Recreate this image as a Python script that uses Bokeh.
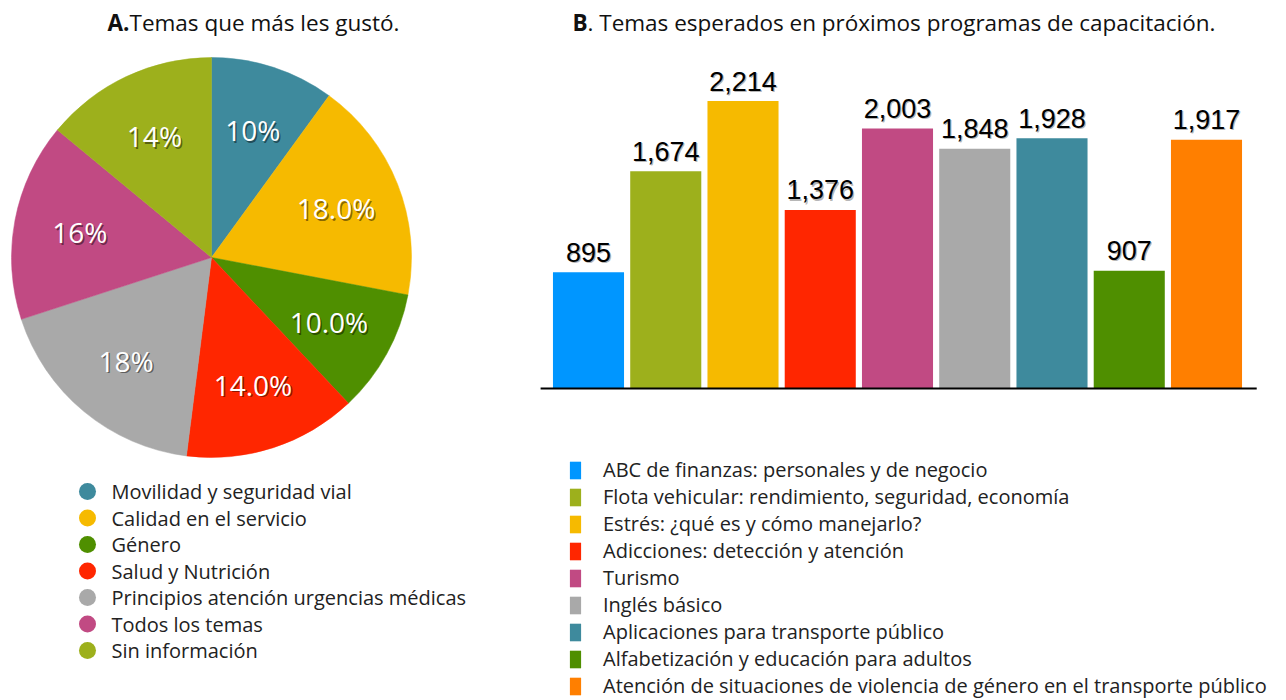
import math
from bokeh.plotting import figure
from bokeh.layouts import row
from bokeh.models import Range1d, Label, Legend, LegendItem, ColumnDataSource
from bokeh.core.properties import value
from bokeh.embed import file_html
from bokeh.resources import INLINE

# ---------------- data ----------------
pie_labels = ["Movilidad y seguridad vial", "Calidad en el servicio", "Género",
              "Salud y Nutrición", "Principios atención urgencias médicas",
              "Todos los temas", "Sin información"]
pie_values = [10, 18, 10, 14, 18, 16, 14]
pie_texts = ["10%", "18.0%", "10.0%", "14.0%", "18%", "16%", "14%"]
pie_colors = ["#3E8A9D", "#F6BA00", "#4F8F00", "#FF2600", "#A9A9A9", "#C14A83", "#9DB01C"]

bar_labels = ["ABC de finanzas: personales y de negocio",
              "Flota vehicular: rendimiento, seguridad, economía",
              "Estrés: ¿qué es y cómo manejarlo?",
              "Adicciones: detección y atención",
              "Turismo",
              "Inglés básico",
              "Aplicaciones para transporte público",
              "Alfabetización y educación para adultos",
              "Atención de situaciones de violencia de género en el transporte público"]
bar_values = [895, 1674, 2214, 1376, 2003, 1848, 1928, 907, 1917]
bar_colors = ["#0096FF", "#9DB01C", "#F6BA00", "#FF2600", "#C14A83", "#A9A9A9",
              "#3E8A9D", "#4F8F00", "#FF7F00"]

FONT = "Open Sans"
H = 700
W1 = 533
W2 = 745

# ---------------- left: pie ----------------
p1 = figure(width=W1, height=H, x_range=Range1d(0, W1), y_range=Range1d(0, H),
            x_axis_type=None, y_axis_type=None, toolbar_location=None,
            output_backend="svg", min_border=0, outline_line_color=None)
p1.grid.visible = False

cx, cy, R = 211, 443, 200
total = float(sum(pie_values))
starts, ends, lx, ly = [], [], [], []
cum = 0.0
for v in pie_values:
    a0 = math.pi / 2 - 2 * math.pi * cum / total
    a1 = math.pi / 2 - 2 * math.pi * (cum + v) / total
    am = (a0 + a1) / 2
    starts.append(a0)
    ends.append(a1)
    lx.append(cx + 0.67 * R * math.cos(am))
    ly.append(cy + 0.67 * R * math.sin(am))
    cum += v

psrc = ColumnDataSource(dict(start=starts, end=ends, color=pie_colors,
                             lx=lx, ly=ly, sx=[x + 1.5 for x in lx],
                             sy=[y - 1.5 for y in ly], txt=pie_texts))
p1.wedge(x=cx, y=cy, radius=R, start_angle="start", end_angle="end",
         direction="clock", fill_color="color", line_color="color",
         line_width=0.5, source=psrc)
p1.text(x="sx", y="sy", text="txt", source=psrc,
        text_color="black", text_alpha=0.45, text_font=value(FONT),
        text_font_size="28px", text_align="center", text_baseline="middle")
p1.text(x="lx", y="ly", text="txt", source=psrc, text_color="white",
        text_font=value(FONT), text_font_size="28px", text_align="center",
        text_baseline="middle")

# pie legend
leg_y = [H - 491 - 26.5 * i for i in range(len(pie_labels))]
lsrc = ColumnDataSource(dict(y=leg_y, color=pie_colors, label=pie_labels))
p1.scatter(x=87, y="y", size=17, marker="circle", fill_color="color",
           line_color=None, source=lsrc)
p1.text(x=111, y="y", text="label", source=lsrc, text_color="#222222",
        text_font=value(FONT), text_font_size="20px", text_baseline="middle")

p1.add_layout(Label(x=129, y=H - 22, x_units="screen", y_units="screen", text="A.",
                    text_font=FONT, text_font_style="bold", text_font_size="22.5px",
                    text_align="right", text_baseline="middle", text_color="#111111"))
p1.add_layout(Label(x=129, y=H - 22, x_units="screen", y_units="screen",
                    text="Temas que más les gustó.", text_font=FONT,
                    text_font_size="22.5px", text_align="left",
                    text_baseline="middle", text_color="#111111"))

# ---------------- right: bars ----------------
pitch = 77.25          # px per category
first_c = 55           # px of first bar centre
base_px = H - 388      # px of baseline from bottom
scale = 0.1298         # px per unit
p2 = figure(width=W2, height=H,
            x_range=Range1d(-first_c / pitch, (W2 - first_c) / pitch),
            y_range=Range1d(-base_px / scale, (H - base_px) / scale),
            x_axis_type=None, y_axis_type=None, toolbar_location=None,
            output_backend="svg", min_border=0, outline_line_color=None)
p2.grid.visible = False

xs = list(range(len(bar_values)))
bsrc = ColumnDataSource(dict(x=xs, top=bar_values, color=bar_colors,
                             ty=[v + 20 / scale for v in bar_values],
                             tsx=[x + 1.2 / pitch for x in xs],
                             tsy=[v + 18.8 / scale for v in bar_values],
                             txt=[f"{v:,}" for v in bar_values]))
bars = p2.vbar(x="x", top="top", bottom=0, width=0.92, fill_color="color",
               line_color=None, source=bsrc)
p2.segment(x0=-0.62, y0=0, x1=len(bar_values) - 1 + 0.65, y1=0,
           line_color="black", line_width=2)
p2.text(x="tsx", y="tsy", text="txt", source=bsrc,
        text_color="black", text_alpha=0.3, text_font=value("Liberation Sans"),
        text_font_size="27px", text_align="center", text_baseline="middle")
p2.text(x="x", y="ty", text="txt", source=bsrc,
        text_color="black", text_font=value("Liberation Sans"),
        text_font_size="27px", text_align="center", text_baseline="middle")

legend = Legend(items=[LegendItem(label=l, renderers=[bars], index=i)
                       for i, l in enumerate(bar_labels)],
                location=(35, 1), orientation="vertical",
                glyph_width=14, glyph_height=22, label_height=22, spacing=0,
                label_standoff=21, padding=0, margin=0,
                border_line_color=None, background_fill_alpha=0,
                label_text_font=FONT, label_text_font_size="20px",
                label_text_color="#222222")
p2.add_layout(legend)

p2.add_layout(Label(x=54, y=H - 22, x_units="screen", y_units="screen", text="B",
                    text_font=FONT, text_font_style="bold", text_font_size="22.5px",
                    text_align="right", text_baseline="middle", text_color="#111111"))
p2.add_layout(Label(x=54, y=H - 22, x_units="screen", y_units="screen",
                    text=". Temas esperados en próximos programas de capacitación.",
                    text_font=FONT, text_font_size="22.5px", text_align="left",
                    text_baseline="middle", text_color="#111111"))

layout = row(p1, p2)
open("out.html", "w").write(file_html(layout, INLINE))
